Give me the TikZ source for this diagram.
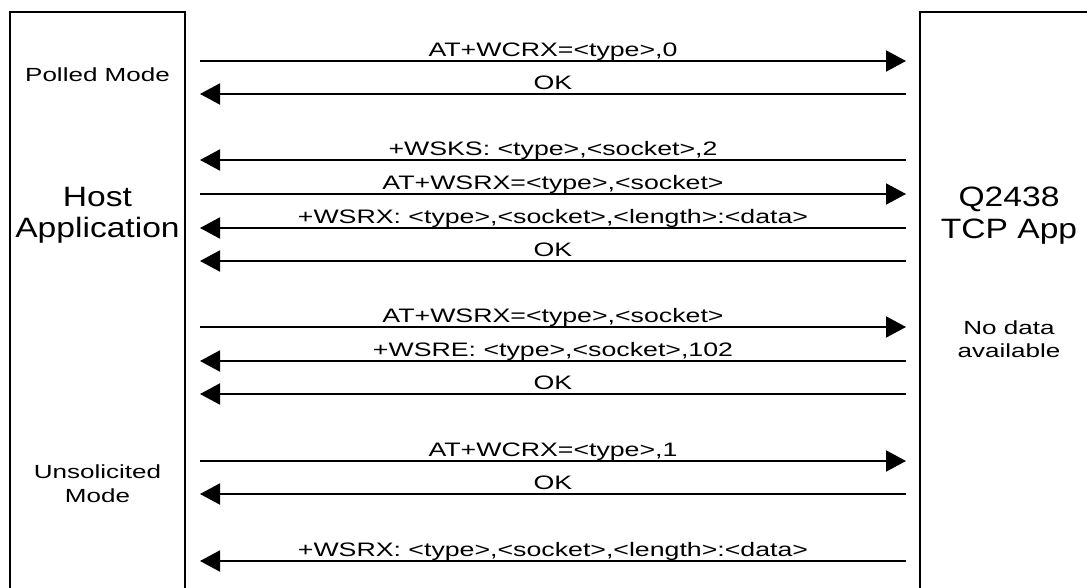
\documentclass[tikz,border=0pt]{standalone}
\usepackage{fontspec}
\setmainfont{Liberation Sans}
\newfontfamily\lblfont[FakeStretch=1.37]{Liberation Sans}
\newfontfamily\bigfont[FakeStretch=1.2]{Liberation Sans}
\usetikzlibrary{arrows.meta}
\begin{document}
\begin{tikzpicture}[x=1pt,y=-1pt,
  lbl/.style={font=\lblfont\fontsize{19.5}{23}\selectfont, inner sep=0pt, anchor=base},
  side/.style={font=\lblfont\fontsize{19}{23}\selectfont, inner sep=0pt, anchor=base},
  big/.style={font=\bigfont\fontsize{28}{31}\selectfont, inner sep=0pt, anchor=base},
  lifebox/.style={draw, line width=2pt, inner sep=0pt},
  msg/.style={line width=2pt, -{Triangle[length=20pt,width=21pt]}},
]
\useasboundingbox (0,0) rectangle (1087,588);
% lifeline boxes (bottom and right edges fall outside the page)
\node[lifebox, minimum width=175pt, minimum height=620pt] (host) at (97.5,322) {};
\node[lifebox, minimum width=200pt, minimum height=620pt] (tcpapp) at (1020,322.5) {};
% message end points
\foreach \yy [count=\i] in {61,94,160,194,228,261,327,361,394,461,494,561}{
  \coordinate (h\i) at (200,\yy);
  \coordinate (t\i) at (906,\yy);
}
\draw[msg] (h1) -- (t1) node[lbl, midway, yshift=4.5pt] (m1) {AT+WCRX=<type>,0};
\draw[msg] (t2) -- (h2) node[lbl, midway, yshift=4.5pt] (m2) {OK};
\draw[msg] (t3) -- (h3) node[lbl, midway, yshift=4.5pt] (m3) {+WSKS: <type>,<socket>,2};
\draw[msg] (h4) -- (t4) node[lbl, midway, yshift=4.5pt] (m4) {AT+WSRX=<type>,<socket>};
\draw[msg] (t5) -- (h5) node[lbl, midway, yshift=4.5pt] (m5) {+WSRX: <type>,<socket>,<length>:<data>};
\draw[msg] (t6) -- (h6) node[lbl, midway, yshift=4.5pt] (m6) {OK};
\draw[msg] (h7) -- (t7) node[lbl, midway, yshift=4.5pt] (m7) {AT+WSRX=<type>,<socket>};
\draw[msg] (t8) -- (h8) node[lbl, midway, yshift=4.5pt] (m8) {+WSRE: <type>,<socket>,102};
\draw[msg] (t9) -- (h9) node[lbl, midway, yshift=4.5pt] (m9) {OK};
\draw[msg] (h10) -- (t10) node[lbl, midway, yshift=4.5pt] (m10) {AT+WCRX=<type>,1};
\draw[msg] (t11) -- (h11) node[lbl, midway, yshift=4.5pt] (m11) {OK};
\draw[msg] (t12) -- (h12) node[lbl, midway, yshift=4.5pt] (m12) {+WSRX: <type>,<socket>,<length>:<data>};
% side texts
\node[side] (polled) at (97.5,82) {Polled Mode};
\node[big] (hostA) at (97.5,207) {Host};
\node[big] (hostB) at (97.5,238) {Application};
\node[big] (appA) at (1009,207) {Q2438};
\node[big] (appB) at (1009,239) {TCP App};
\node[side] (nodata) at (1009,334) {No data};
\node[side] (avail) at (1009,357) {available};
\node[side] (unsA) at (97.5,478) {Unsolicited};
\node[side] (unsB) at (97.5,502) {Mode};
\end{tikzpicture}
\end{document}
